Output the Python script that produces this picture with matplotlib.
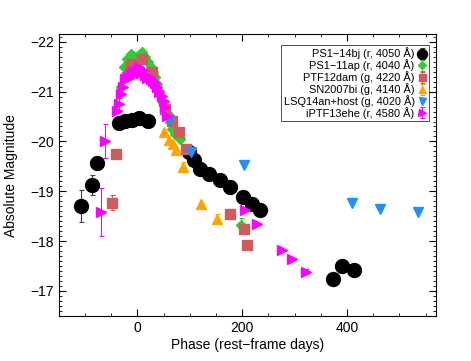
#!/usr/bin/env python3
import matplotlib
matplotlib.use("Agg")
import matplotlib.pyplot as plt
from matplotlib.ticker import MultipleLocator

plt.rcParams['font.family'] = ['Liberation Sans', 'DejaVu Sans']
plt.rcParams['axes.unicode_minus'] = True

# ─── Data ───────────────────────────────────────────────────────────────────────
# PS1-14bj (r, 4050 A)
bj_x   = [-108.6, -87, -77.5, -36, -24, -10, 2, 20, 98, 107, 120, 136, 157, 177, 201, 218, 233, 374, 391, 413]
bj_y   = [-18.71, -19.12, -19.57, -20.37, -20.42, -20.44, -20.47, -20.41, -19.78, -19.62, -19.45,
          -19.35, -19.22, -19.08, -18.89, -18.74, -18.63, -17.23, -17.50, -17.42]
bj_err = [0.32, 0.2, 0, 0, 0, 0, 0, 0, 0, 0, 0, 0, 0, 0, 0, 0, 0, 0.12, 0, 0.12]

# PS1-11ap (r, 4040 A)
ap_x   = [-32, -26, -20, -13, -8, -3, 4, 9, 15, 20, 25, 30, 34, 38, 41, 47, 52, 58, 63, 66, 72, 82, 197.5]
ap_y   = [-21.09, -21.49, -21.65, -21.75, -21.72, -21.70, -21.75, -21.80, -21.70, -21.60, -21.49,
          -21.40, -21.29, -21.15, -21.02, -20.82, -20.70, -20.55, -20.40, -20.25, -20.15, -20.05, -18.32]
ap_err = [0] * 22 + [0.15]

# PTF12dam (g, 4220 A)
dam_x   = [-49.5, -40.6, -15, -10, 9, 28, 53, 66, 79, 92, 177, 202.5, 209]
dam_y   = [-18.77, -19.74, -21.48, -21.55, -21.65, -21.39, -20.65, -20.41, -20.19, -19.85, -18.55, -18.24, -17.93]
dam_err = [0.15, 0.08, 0, 0, 0, 0, 0, 0, 0, 0, 0, 0, 0]

# SN2007bi (g, 4140 A)
bi_x   = [51.4, 60, 67, 74, 87, 121, 152]
bi_y   = [-20.19, -20.02, -19.94, -19.82, -19.49, -18.75, -18.45]
bi_err = [0, 0, 0, 0, 0.1, 0, 0.1]

# LSQ14an+host (g, 4020 A)
an_x = [60, 103, 202.5, 409, 463, 536]
an_y = [-20.43, -19.79, -19.52, -18.77, -18.65, -18.58]

# iPTF13ehe (r, 4580 A)
ehe_x   = [-70.5, -62, -40, -36, -32, -28, -24, -20, -16, -12, -8, -4, 0, 3, 6, 10, 14, 18, 22,
           26, 30, 34, 38, 42, 46, 50, 53, 57, 206, 229, 276, 295, 322]
ehe_y   = [-18.59, -20.01, -20.62, -20.75, -20.95, -21.10, -21.25, -21.30, -21.28, -21.35, -21.40,
           -21.36, -21.42, -21.50, -21.38, -21.44, -21.33, -21.28, -21.30, -21.25, -21.22, -21.18,
           -21.10, -21.00, -20.92, -20.82, -20.70, -20.52, -18.62, -18.35, -17.83, -17.65, -17.39]
ehe_err = [0.48, 0.35, 0, 0.12, 0, 0, 0, 0, 0, 0, 0.06, 0, 0, 0.08, 0, 0, 0, 0, 0,
           0, 0, 0, 0, 0, 0, 0, 0, 0, 0, 0, 0, 0, 0.05]

SERIES = [
    ("PS1\u221214bj (r, 4050 \u00c5)",    bj_x,  bj_y,  bj_err,  'o', 'black',     '#404040', 10),
    ("PS1\u221211ap (r, 4040 \u00c5)",    ap_x,  ap_y,  ap_err,  'D', '#33CC33',   '#33CC33', 5.5),
    ("PTF12dam (g, 4220 \u00c5)",         dam_x, dam_y, dam_err, 's', '#CD5C5C',   '#CD5C5C', 7),
    ("SN2007bi (g, 4140 \u00c5)",         bi_x,  bi_y,  bi_err,  '^', '#FFA500',   '#FFA500', 7),
    ("LSQ14an+host (g, 4020 \u00c5)",     an_x,  an_y,  None,    'v', '#1E90FF',   '#1E90FF', 7),
    ("iPTF13ehe (r, 4580 \u00c5)",        ehe_x, ehe_y, ehe_err, '>', '#FF00FF',   '#FF00FF', 7),
]
# ────────────────────────────────────────────────────────────────────────────────

fig = plt.figure(figsize=(4.71, 3.61), dpi=100)
ax = fig.add_axes([0.125, 0.125, 0.801, 0.780])

for label, x, y, err, mk, col, ecol, ms in SERIES:
    ax.errorbar(x, y, yerr=err, fmt=mk, color=col, ecolor=ecol, mec=col,
                ms=ms, elinewidth=0.8, capsize=1.8, capthick=0.8, label=label)

ax.set_xlim(-150, 570)
ax.set_ylim(-16.5, -22.15)
ax.xaxis.set_major_locator(MultipleLocator(200))
ax.xaxis.set_minor_locator(MultipleLocator(50))
ax.yaxis.set_major_locator(MultipleLocator(1))
ax.yaxis.set_minor_locator(MultipleLocator(0.1))
ax.tick_params(which='both', direction='in', top=True, right=True, labelsize=10)
ax.tick_params(which='major', length=5, width=0.8)
ax.tick_params(which='minor', length=2.5, width=0.6)

ax.set_xlabel("Phase (rest\u2212frame days)", fontsize=10, labelpad=2)
ax.set_ylabel("Absolute Magnitude", fontsize=10, labelpad=9)

leg = ax.legend(loc='upper right', bbox_to_anchor=(0.981, 0.961), borderaxespad=0,
                markerfirst=False, fontsize=7.9, markerscale=0.72, handlelength=0.8,
                handletextpad=0.3, labelspacing=0.0, borderpad=0.2, fancybox=False,
                framealpha=1, edgecolor='#333333', numpoints=1)
leg.get_frame().set_linewidth(0.6)

fig.savefig("out.png", dpi=100)
